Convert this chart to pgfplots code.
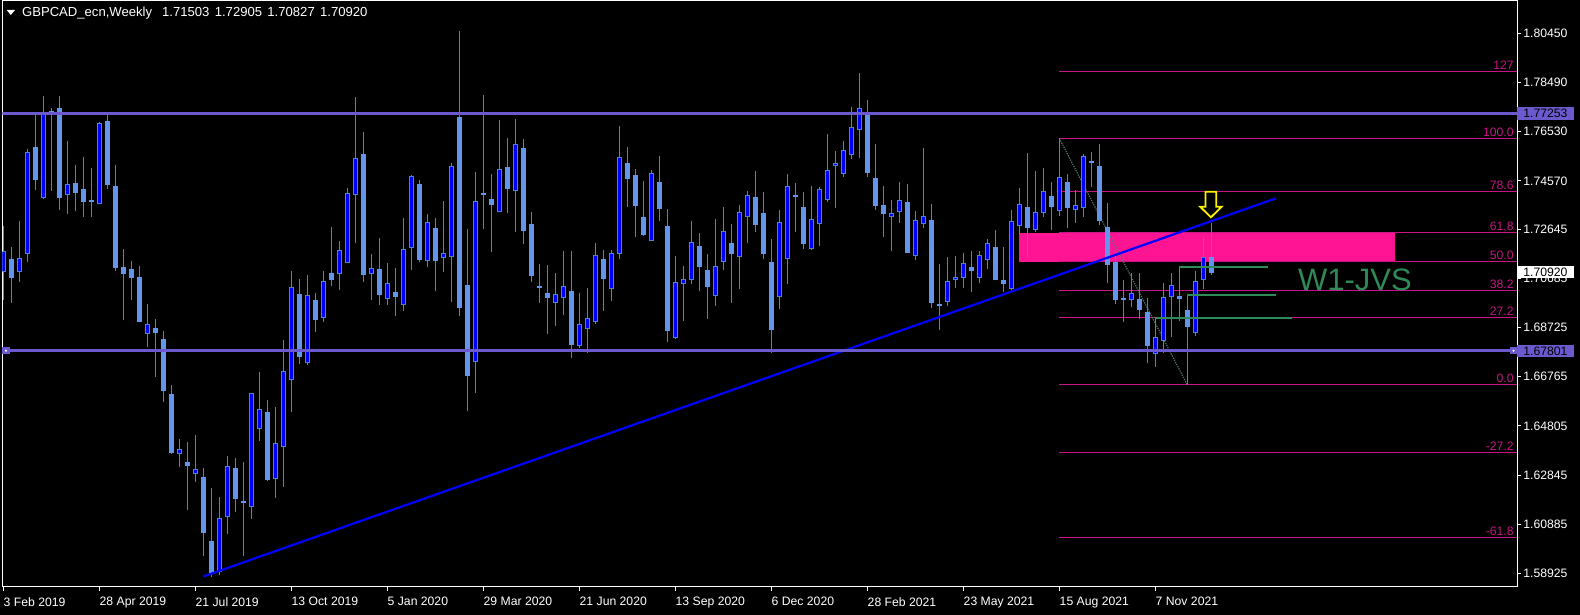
\documentclass[border=0pt]{standalone}
\usepackage{pgfplots}
\usepackage{pgfplotstable}
\pgfplotsset{compat=1.18}
\usepackage{fontspec}
\setmainfont{Liberation Sans}
\definecolor{wick}{HTML}{4A86C8}
\definecolor{bullfill}{HTML}{0000FF}
\definecolor{bulledge}{HTML}{4A86C8}
\definecolor{bearfill}{HTML}{6495ED}
\definecolor{slate}{HTML}{6A5ACD}
\definecolor{fib}{HTML}{C71585}
\definecolor{zone}{HTML}{FF1493}
\definecolor{sea}{HTML}{2E8B57}
\definecolor{diag}{HTML}{4F7A72}
\definecolor{trend}{HTML}{0000FF}
\newcommand{\tfont}{\fontsize{6.1}{7}\selectfont}
\pgfplotsset{candle/.style={only marks, mark=none, forget plot,
  mark options={draw opacity=0, fill opacity=0},
  error bars/.cd, y dir=both, y explicit, error mark=none}}

\pgfplotstableread{
x o h l c
0 1.7095 1.7277 1.6984 1.7176
2 1.7095 1.7297 1.7055 1.7146
3 1.7167 1.7584 1.7133 1.7569
5 1.7391 1.7795 1.7386 1.7721
8 1.7402 1.7616 1.7325 1.7441
12 1.7367 1.7691 1.7364 1.7684
18 1.6848 1.6967 1.6796 1.6885
22 1.6370 1.6428 1.6317 1.6387
24 1.6290 1.6444 1.6258 1.6307
27 1.5899 1.6196 1.5885 1.6110
28 1.6120 1.6360 1.6048 1.6320
31 1.6159 1.6613 1.6108 1.6608
32 1.6471 1.6695 1.6419 1.6547
34 1.6272 1.6557 1.6195 1.6411
35 1.6397 1.6823 1.6235 1.6699
36 1.6666 1.7098 1.6537 1.7031
38 1.6733 1.7082 1.6725 1.7002
40 1.6912 1.7098 1.6895 1.7056
42 1.7089 1.7217 1.7024 1.7180
43 1.7133 1.7429 1.7130 1.7408
44 1.7404 1.7791 1.7211 1.7547
46 1.7089 1.7166 1.6984 1.7109
48 1.6989 1.7130 1.6964 1.7049
50 1.6965 1.7310 1.6940 1.7184
51 1.7191 1.7480 1.7102 1.7476
53 1.7139 1.7325 1.7112 1.7290
55 1.7152 1.7376 1.7095 1.7169
56 1.7154 1.7529 1.6975 1.7516
59 1.6736 1.7492 1.6613 1.7375
62 1.7334 1.7700 1.7331 1.7503
64 1.7418 1.7704 1.7254 1.7603
69 1.6974 1.7090 1.6880 1.7005
70 1.6994 1.7177 1.6924 1.7036
72 1.6801 1.7011 1.6791 1.6885
73 1.6870 1.7031 1.6770 1.6910
74 1.6895 1.7210 1.6888 1.7160
76 1.7029 1.7182 1.6979 1.7169
77 1.7169 1.7675 1.7147 1.7552
81 1.7220 1.7500 1.7216 1.7488
84 1.6831 1.7157 1.6828 1.7052
85 1.7049 1.7117 1.6900 1.7065
86 1.7065 1.7297 1.7048 1.7211
89 1.7001 1.7305 1.6959 1.7116
90 1.7136 1.7352 1.7103 1.7256
92 1.7156 1.7361 1.7028 1.7331
93 1.7315 1.7416 1.7211 1.7399
97 1.6995 1.7341 1.6948 1.7291
98 1.7149 1.7485 1.7048 1.7435
101 1.7187 1.7436 1.7183 1.7304
102 1.7288 1.7432 1.7197 1.7423
103 1.7384 1.7644 1.7371 1.7499
104 1.7519 1.7576 1.7349 1.7527
105 1.7488 1.7616 1.7473 1.7579
106 1.7563 1.7751 1.7544 1.7670
107 1.7663 1.7888 1.7550 1.7747
111 1.7315 1.7381 1.7179 1.7328
112 1.7334 1.7452 1.7291 1.7379
114 1.7159 1.7337 1.7143 1.7300
115 1.7288 1.7589 1.7271 1.7315
118 1.6975 1.7153 1.6959 1.7056
119 1.7063 1.7157 1.7032 1.7073
120 1.7073 1.7170 1.7028 1.7129
122 1.7073 1.7177 1.7052 1.7160
123 1.7144 1.7226 1.7107 1.7209
126 1.7028 1.7341 1.7019 1.7295
127 1.7278 1.7429 1.7247 1.7364
129 1.7263 1.7496 1.7254 1.7331
130 1.7331 1.7509 1.7311 1.7415
132 1.7338 1.76267 1.7318 1.7472
134 1.7344 1.7420 1.7291 1.7359
135 1.7351 1.7564 1.7314 1.7556
141 1.6985 1.7090 1.6955 1.7009
144 1.6770 1.6912 1.6717 1.6831
145 1.6821 1.7049 1.6770 1.6994
146 1.6996 1.7090 1.6834 1.7041
149 1.6853 1.7098 1.6837 1.7056
150 1.7065 1.7233 1.7028 1.7153
}\bull

\pgfplotstableread{
x o h l c
1 1.7142 1.7193 1.6971 1.7072
4 1.7589 1.7721 1.7421 1.7462
6 1.7735 1.7748 1.7416 1.7728
7 1.7744 1.7795 1.7341 1.7392
9 1.7445 1.7520 1.7337 1.7412
10 1.7421 1.7552 1.7312 1.7376
11 1.7378 1.7509 1.7312 1.7374
13 1.7695 1.7721 1.7425 1.7441
14 1.7436 1.7520 1.7098 1.7113
15 1.7113 1.7186 1.6902 1.7086
16 1.7102 1.7137 1.6982 1.7070
17 1.7070 1.7117 1.6894 1.6898
19 1.6867 1.6907 1.6676 1.6853
20 1.6823 1.6858 1.6577 1.6621
21 1.6604 1.6643 1.6369 1.6374
23 1.6333 1.6416 1.6147 1.6322
25 1.6276 1.6313 1.5963 1.6056
26 1.6021 1.6233 1.5878 1.5892
29 1.6309 1.6353 1.6138 1.6191
30 1.6180 1.6336 1.5960 1.6176
33 1.6532 1.6585 1.6259 1.6266
37 1.7006 1.7066 1.6729 1.6756
39 1.6982 1.7011 1.6853 1.6904
41 1.7086 1.7273 1.7039 1.7063
45 1.7564 1.7651 1.7055 1.7083
47 1.7102 1.7230 1.6964 1.7004
49 1.7014 1.7110 1.6920 1.6995
52 1.7441 1.7461 1.7133 1.7143
54 1.7266 1.7310 1.7019 1.7139
57 1.7708 1.8054 1.6918 1.6952
58 1.7038 1.7265 1.6541 1.6680
60 1.7405 1.7799 1.7265 1.7401
61 1.7381 1.7485 1.7173 1.7362
63 1.7512 1.7628 1.7330 1.7426
65 1.7584 1.7624 1.7206 1.7258
66 1.7285 1.7332 1.7052 1.7079
67 1.7035 1.7126 1.6972 1.7031
68 1.7009 1.7122 1.6846 1.6992
71 1.7018 1.7177 1.6753 1.6804
75 1.7142 1.7182 1.6940 1.7068
78 1.7525 1.7591 1.7351 1.7466
79 1.7480 1.7505 1.7234 1.7358
80 1.7312 1.7456 1.7238 1.7243
82 1.7452 1.7556 1.7298 1.7347
83 1.7277 1.7345 1.6813 1.6861
87 1.7197 1.7248 1.7019 1.7115
88 1.7098 1.7166 1.6908 1.7035
91 1.7206 1.7285 1.6972 1.7167
94 1.7392 1.7496 1.7254 1.7283
95 1.7325 1.7412 1.7147 1.7167
96 1.7130 1.7226 1.6770 1.6864
99 1.7398 1.7449 1.7254 1.7394
100 1.7349 1.7412 1.7187 1.7207
108 1.7725 1.7779 1.7472 1.7490
109 1.7465 1.7604 1.7342 1.7358
110 1.7357 1.7436 1.7234 1.7327
113 1.7372 1.7445 1.7170 1.7172
116 1.7301 1.7365 1.6952 1.6972
117 1.6963 1.7126 1.6864 1.6959
121 1.7110 1.7177 1.7015 1.7099
124 1.7193 1.7261 1.7062 1.7063
125 1.7058 1.7193 1.7014 1.7048
128 1.7349 1.7569 1.7152 1.7271
131 1.7396 1.7452 1.7263 1.7354
133 1.7449 1.7485 1.7271 1.7351
136 1.7534 1.7572 1.7431 1.7530
137 1.7516 1.7604 1.7283 1.7298
138 1.7273 1.7369 1.7052 1.7123
139 1.7130 1.7173 1.6967 1.6984
140 1.6988 1.7062 1.6893 1.6984
142 1.6986 1.7090 1.6905 1.6944
143 1.6934 1.6991 1.6733 1.6800
147 1.6998 1.7115 1.6900 1.6988
148 1.6942 1.7003 1.66434 1.6875
151 1.71503 1.72905 1.70827 1.70920
}\bear

\begin{document}
\begin{tikzpicture}
\fill[black] (0,0) rectangle (790pt,307.5pt);
\begin{axis}[
  at={(1.25pt,14pt)}, anchor=south west,
  scale only axis, width=757.25pt, height=293pt,
  xmin=-0.1, xmax=189.21, ymin=1.58383, ymax=1.81739,
  clip mode=individual,
  axis line style={white, line width=0.5pt},
  tick style={white, line width=0.5pt},
  tick align=outside, major tick length=2pt,
  ytick pos=right, yticklabel pos=right, xtick pos=bottom,
  scaled y ticks=false,
  ytick={1.80450,1.78490,1.76530,1.74570,1.72645,1.70685,1.68725,1.66765,1.64805,1.62845,1.60885,1.58925},
  yticklabels={1.80450,1.78490,1.76530,1.74570,1.72645,1.70685,1.68725,1.66765,1.64805,1.62845,1.60885,1.58925},
  xtick={0,12,24,36,48,60,72,84,96,108,120,132,144},
  xticklabels={3 Feb 2019,28 Apr 2019,21 Jul 2019,13 Oct 2019,5 Jan 2020,29 Mar 2020,21 Jun 2020,13 Sep 2020,6 Dec 2020,28 Feb 2021,23 May 2021,15 Aug 2021,7 Nov 2021},
  yticklabel style={font=\tfont, text=white, anchor=west, inner sep=0pt, xshift=1pt},
  xticklabel style={font=\tfont, text=white, anchor=north west, inner sep=0pt, yshift=-3pt},
]
% zone rectangle
\addplot[fill=zone, draw=none, forget plot] coordinates {(127,1.71329) (174,1.71329) (174,1.72481) (127,1.72481)} -- cycle;
% fibonacci levels
\foreach \lv in {1.78922,1.76267,1.74163,1.72511,1.71351,1.70190,1.69109,1.66434,1.63759,1.60357}{
  \edef\tmp{\noexpand\addplot[fib, line width=0.5pt, forget plot] coordinates {(132,\lv) (189.21,\lv)};}
  \tmp
}
\addplot[diag, line width=0.6pt, dash pattern=on 0.6pt off 0.6pt, forget plot] coordinates {(132,1.76267) (148,1.66434)};
% wicks
\addplot[candle, error bar style={wick, line width=0.5pt}]
  table[x=x, y expr={(\thisrow{h}+\thisrow{l})/2}, y error expr={(\thisrow{h}-\thisrow{l})/2}] {\bull};
\addplot[candle, error bar style={wick, line width=0.5pt}]
  table[x=x, y expr={(\thisrow{h}+\thisrow{l})/2}, y error expr={(\thisrow{h}-\thisrow{l})/2}] {\bear};
% bodies
\addplot[candle, error bar style={bulledge, line width=2.5pt}]
  table[x=x, y expr={(\thisrow{o}+\thisrow{c})/2}, y error expr={abs(\thisrow{o}-\thisrow{c})/2+0.0002}] {\bull};
\addplot[candle, error bar style={bullfill, line width=1.5pt}]
  table[x=x, y expr={(\thisrow{o}+\thisrow{c})/2}, y error expr={max(abs(\thisrow{o}-\thisrow{c})/2-0.0002,0)}] {\bull};
\addplot[candle, error bar style={bearfill, line width=2.5pt}]
  table[x=x, y expr={(\thisrow{o}+\thisrow{c})/2}, y error expr={abs(\thisrow{o}-\thisrow{c})/2+0.0002}] {\bear};
% trend line
\addplot[trend, line width=1.1pt, forget plot] coordinates {(25,1.58801) (159.09,1.73876)};
% horizontal levels
\addplot[slate, line width=1.5pt, forget plot] coordinates {(-0.1,1.77253) (189.21,1.77253)};
\addplot[slate, line width=1.5pt, forget plot] coordinates {(-0.1,1.67801) (189.21,1.67801)};
\addplot[only marks, mark=square*, mark size=1.6pt, color=slate, forget plot] coordinates {(0.33,1.67801) (188.78,1.67801)};
\addplot[only marks, mark=*, mark size=0.3pt, color=white, forget plot] coordinates {(0.33,1.67801) (188.78,1.67801)};
% green lines
\addplot[sea, line width=1pt, forget plot] coordinates {(147,1.71150) (158.05,1.71150)};
\addplot[sea, line width=1pt, forget plot] coordinates {(148,1.70021) (159.09,1.70021)};
\addplot[sea, line width=1pt, forget plot] coordinates {(144,1.69117) (161.05,1.69117)};
% arrow
\addplot[draw=yellow, line width=0.9pt, forget plot] coordinates {(150.28,1.74139) (151.62,1.74139) (151.62,1.73541) (152.30,1.73541) (150.95,1.73118) (149.60,1.73541) (150.28,1.73541)} -- cycle;
% fib labels
\foreach \lv/\tx in {1.78922/127,1.76267/100.0,1.74163/78.6,1.72511/{61,8},1.71351/50.0,1.70190/38.2,1.69109/27.2,1.66434/0.0,1.63759/-27.2,1.60357/-61.8}{
  \edef\tmp{\noexpand\node[anchor=base east, inner sep=0pt, text=fib, font=\noexpand\tfont, yshift=1pt] at (axis cs:188.84,\lv) {\tx};}
  \tmp
}
\node[text=sea, font=\fontsize{15.5}{18}\selectfont, inner sep=0pt] at (axis cs:168.96,1.70619) {W1-JVS};
\coordinate (hlA) at (axis cs:189.21,1.77253);
\coordinate (hlB) at (axis cs:189.21,1.67801);
\coordinate (cur) at (axis cs:189.21,1.70920);
\end{axis}
\node[fill=slate, text=black, anchor=west, inner xsep=3pt, inner ysep=0pt, text height=4.4pt, text depth=0pt, minimum height=6.2pt, font=\tfont] at (hlA) {1.77253};
\node[fill=slate, text=black, anchor=west, inner xsep=3pt, inner ysep=0pt, text height=4.4pt, text depth=0pt, minimum height=6pt, font=\tfont] at (hlB) {1.67801};
\node[fill=white, text=black, anchor=west, inner xsep=3pt, inner ysep=0pt, text height=4.4pt, text depth=0pt, minimum height=6pt, font=\tfont] at (cur) {1.70920};
% title
\fill[white] (3.35pt,302.5pt) -- (7.5pt,302.5pt) -- (5.42pt,300pt) -- cycle;
\node[anchor=base west, inner sep=0pt, text=white, font=\fontsize{6.55}{7.5}\selectfont] at (10.85pt,299pt) {GBPCAD\_ecn,Weekly\hspace{5pt}1.71503\hspace{2.65pt}1.72905\hspace{2.65pt}1.70827\hspace{2.65pt}1.70920};
\pgfresetboundingbox
\path[use as bounding box] (0,0) rectangle (790pt,307.5pt);
\end{tikzpicture}
\end{document}
